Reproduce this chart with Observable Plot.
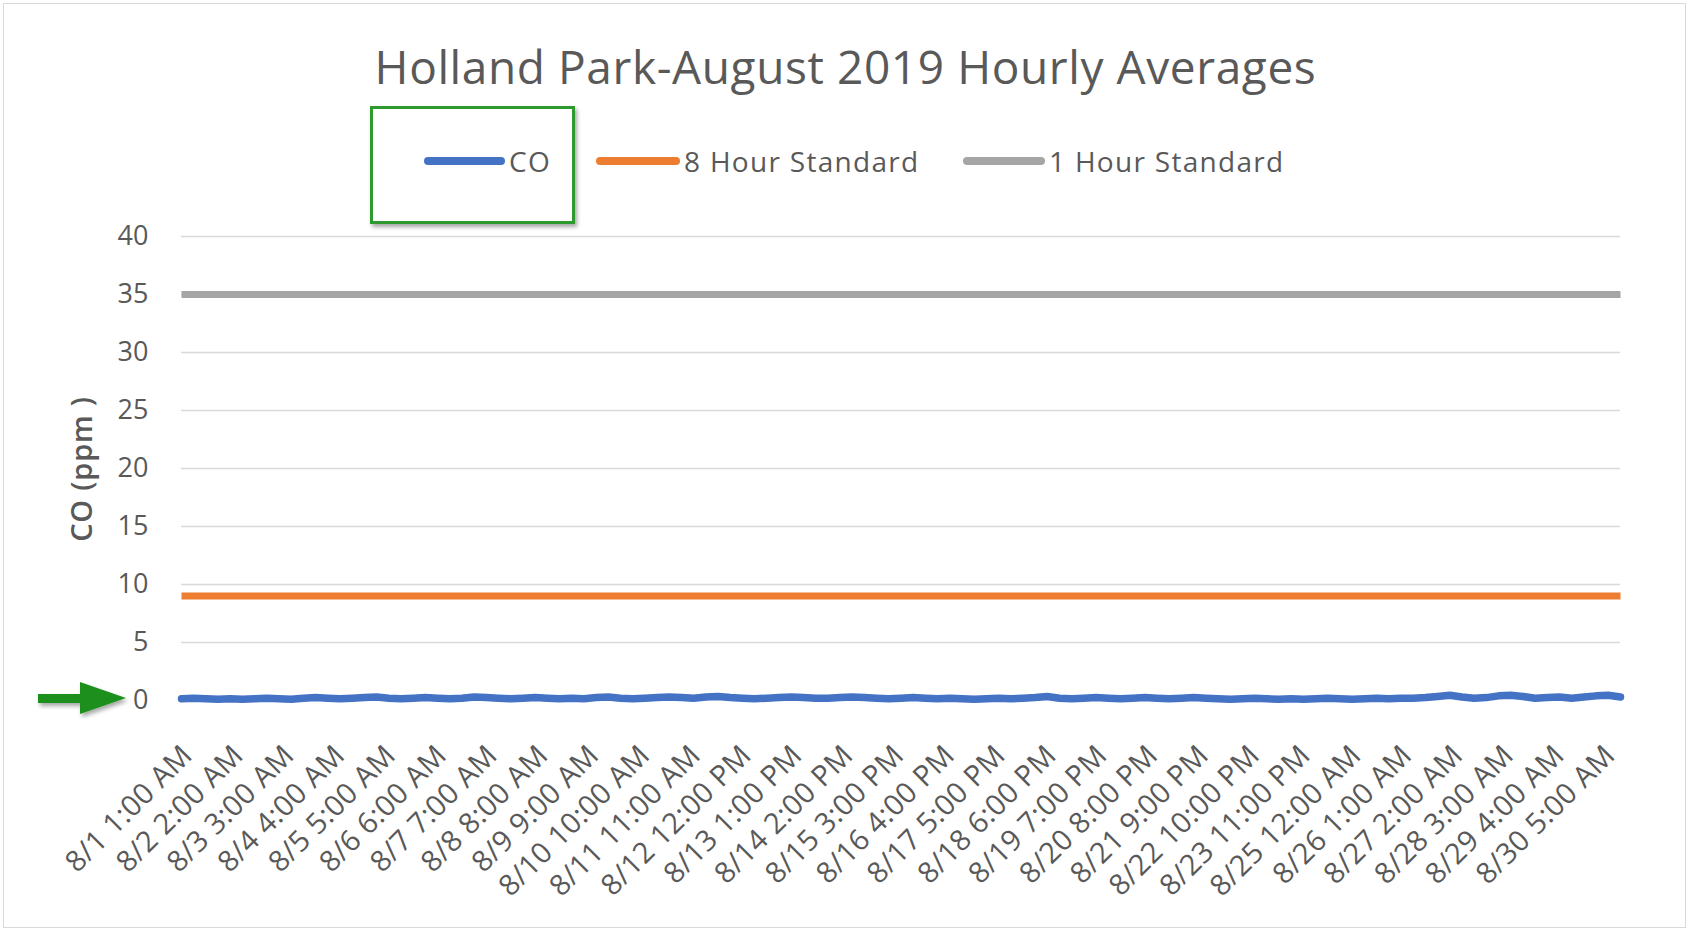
<!DOCTYPE html>
<html><head><meta charset="utf-8">
<script src="https://cdn.jsdelivr.net/npm/d3@7"></script>
<script src="https://cdn.jsdelivr.net/npm/@observablehq/plot@0.6"></script>
<style>
body{margin:0;background:#fff;font-family:"Open Sans",sans-serif;}
#chart{position:relative;width:1691px;height:931px;overflow:hidden;background:#fff;}
#frame{position:absolute;left:3px;top:3px;width:1683px;height:925px;border:1px solid #d9d9d9;box-sizing:border-box;}
#title{position:absolute;left:0;width:1691px;top:35px;text-align:center;font-size:46px;letter-spacing:0.6px;line-height:62px;color:#595959;}
#plot{position:absolute;left:0;top:200px;}
#plot g[aria-label="x-axis tick label"] text{letter-spacing:0.4px;}
#ylabel{position:absolute;left:80px;top:469px;transform:translate(-50%,-50%) rotate(-90deg);font-size:29px;letter-spacing:0.8px;font-weight:600;color:#595959;white-space:nowrap;}
.lg-sw{position:absolute;height:8px;border-radius:4px;}
.lg-tx{position:absolute;font-size:28px;letter-spacing:1.3px;color:#595959;line-height:36px;white-space:nowrap;}
#gbox{position:absolute;left:370px;top:106px;width:205px;height:118px;border:3px solid #2e9a2e;box-sizing:border-box;box-shadow:2px 3px 4px rgba(0,0,0,0.35);}
#arrow{position:absolute;left:30px;top:672px;}
</style></head>
<body>
<div id="chart">
  <div id="frame"></div>
  <div id="title">Holland Park-August 2019 Hourly Averages</div>
  <div id="legend"></div>
  <div id="gbox"></div>
  <div id="ylabel">CO (ppm )</div>
  <svg id="arrow" width="110" height="56" viewBox="0 0 110 56">
    <defs><filter id="sh" x="-20%" y="-30%" width="150%" height="180%"><feDropShadow dx="2" dy="3" stdDeviation="2" flood-opacity="0.35"/></filter></defs>
    <g filter="url(#sh)" fill="#1f8f1f">
      <rect x="8" y="22" width="46" height="9"/>
      <polygon points="50,10 96,26 50,42"/>
    </g>
  </svg>
  <div id="plot"></div>
</div>
<script>
// ---- data ----
const seriesNames = ["CO", "8 Hour Standard", "1 Hour Standard"];
const seriesColors = ["#4472c4", "#ed7d31", "#a5a5a5"];
const standard8h = 9;
const standard1h = 35;
const lastHour = 708;      // hours after 8/1 1:00 AM
const coStepHours = 6;     // CO readings sampled every 6 hours
const coValues = [
  0.15,0.2,0.15,0.1,0.15,0.1,0.15,0.2,0.15,0.1,0.2,0.25,0.2,0.15,0.2,0.25,0.3,0.2,0.15,0.2,
  0.25,0.2,0.15,0.2,0.3,0.25,0.2,0.15,0.2,0.25,0.2,0.15,0.2,0.15,0.25,0.3,0.2,0.15,0.2,0.25,
  0.3,0.25,0.2,0.3,0.35,0.25,0.2,0.15,0.2,0.25,0.3,0.25,0.2,0.2,0.25,0.3,0.25,0.2,0.15,0.2,
  0.25,0.2,0.15,0.2,0.15,0.1,0.15,0.2,0.15,0.2,0.25,0.35,0.2,0.15,0.2,0.25,0.2,0.15,0.2,0.25,
  0.2,0.15,0.2,0.25,0.2,0.15,0.1,0.15,0.2,0.15,0.1,0.15,0.1,0.15,0.2,0.15,0.1,0.15,0.2,0.15,
  0.2,0.2,0.25,0.35,0.45,0.3,0.2,0.25,0.4,0.45,0.35,0.2,0.25,0.3,0.2,0.3,0.4,0.45,0.3
];
const tickLabelStep = 25;
const tickLabels = [
  "8/1 1:00 AM","8/2 2:00 AM","8/3 3:00 AM","8/4 4:00 AM","8/5 5:00 AM","8/6 6:00 AM",
  "8/7 7:00 AM","8/8 8:00 AM","8/9 9:00 AM","8/10 10:00 AM","8/11 11:00 AM","8/12 12:00 PM",
  "8/13 1:00 PM","8/14 2:00 PM","8/15 3:00 PM","8/16 4:00 PM","8/17 5:00 PM","8/18 6:00 PM",
  "8/19 7:00 PM","8/20 8:00 PM","8/21 9:00 PM","8/22 10:00 PM","8/23 11:00 PM","8/25 12:00 AM",
  "8/26 1:00 AM","8/27 2:00 AM","8/28 3:00 AM","8/29 4:00 AM","8/30 5:00 AM"
];
const yTicks = [0,5,10,15,20,25,30,35,40];

// ---- tables ----
const coData = coValues.map((v, i) => ({hour: i * coStepHours, value: v}));
const std8Data = [{hour: 0, value: standard8h}, {hour: lastHour, value: standard8h}];
const std1Data = [{hour: 0, value: standard1h}, {hour: lastHour, value: standard1h}];
const tickHours = tickLabels.map((_, i) => i * tickLabelStep);

// ---- legend ----
const legendLayout = [{sw: 424, tx: 509}, {sw: 596, tx: 684}, {sw: 963, tx: 1049}];
const legend = document.getElementById("legend");
seriesNames.forEach((name, i) => {
  const sw = document.createElement("div");
  sw.className = "lg-sw";
  sw.style.left = legendLayout[i].sw + "px";
  sw.style.top = "157px";
  sw.style.width = (legendLayout[i].tx - legendLayout[i].sw - 4) + "px";
  sw.style.background = seriesColors[i];
  legend.appendChild(sw);
  const tx = document.createElement("div");
  tx.className = "lg-tx";
  tx.style.left = legendLayout[i].tx + "px";
  tx.style.top = "143px";
  tx.textContent = name;
  legend.appendChild(tx);
});

// ---- plot ----
const chart = Plot.plot({
  width: 1691,
  height: 731,
  marginLeft: 181,
  marginRight: 71,
  marginTop: 36,
  marginBottom: 231,
  style: {fontFamily: "'Open Sans', sans-serif", background: "transparent"},
  x: {domain: [0, lastHour]},
  y: {domain: [0, 40]},
  marks: [
    Plot.gridY(yTicks.filter(d => d > 0), {stroke: "#d9d9d9", strokeOpacity: 1, strokeWidth: 1.3}),
    Plot.axisY(yTicks, {tickSize: 0, tickPadding: 33, fontSize: 27, fill: "#595959", label: null}),
    Plot.axisX(tickHours, {
      tickSize: 0, tickPadding: 50, tickRotate: -45, fontSize: 29, fill: "#595959", label: null, dx: 6,
      tickFormat: d => tickLabels[d / tickLabelStep]
    }),
    Plot.lineY(std1Data, {x: "hour", y: "value", stroke: seriesColors[2], strokeWidth: 7, strokeLinecap: "butt"}),
    Plot.lineY(std8Data, {x: "hour", y: "value", stroke: seriesColors[1], strokeWidth: 7, strokeLinecap: "butt"}),
    Plot.lineY(coData, {x: "hour", y: "value", stroke: seriesColors[0], strokeWidth: 7.5, strokeLinejoin: "round", strokeLinecap: "round"})
  ]
});
document.getElementById("plot").appendChild(chart);
</script>
</body></html>
